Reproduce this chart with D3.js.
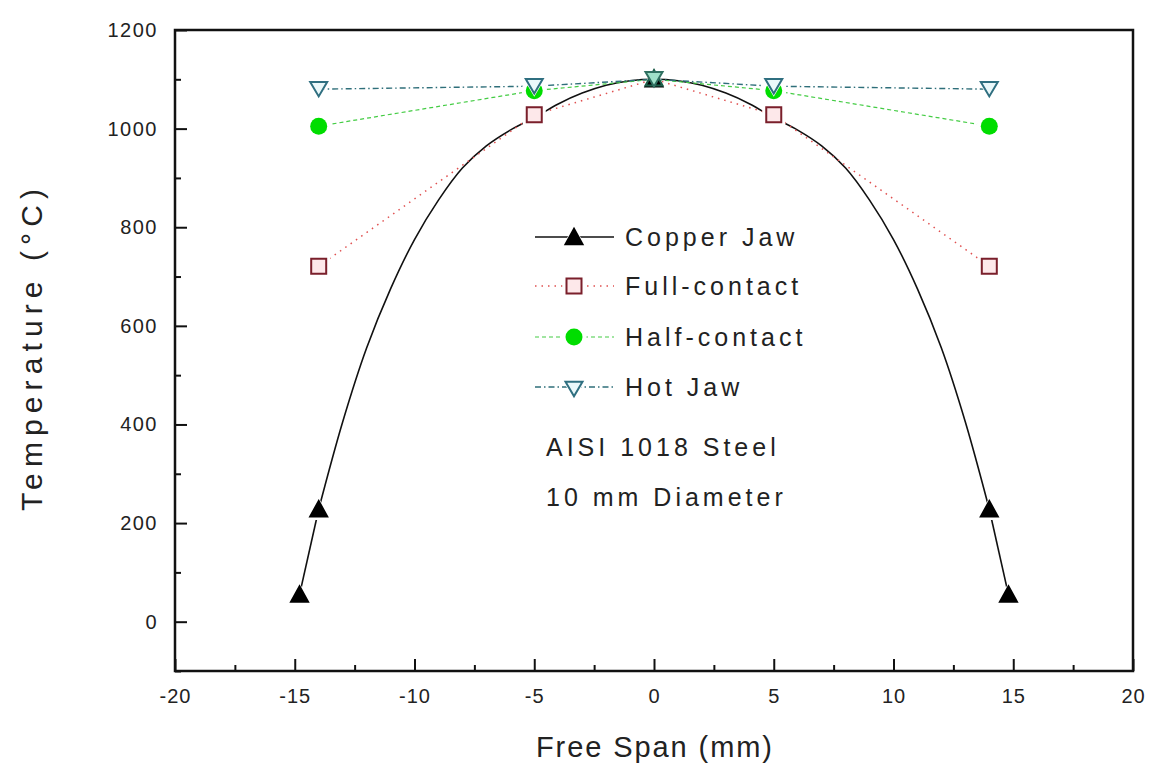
<!DOCTYPE html>
<html>
<head>
<meta charset="utf-8">
<script src="https://cdn.jsdelivr.net/npm/d3@7"></script>
<style>
  body { margin: 0; background: #fff; }
  text { font-family: "Liberation Sans", Arial, sans-serif; fill: #222; }
</style>
</head>
<body>
<div id="chart"></div>
<script>
// data
var spanX = [-14, -5, 0, 5, 14];
var copperX = [-14.8, -14, 0, 14, 14.8];
var copperT = [55, 228, 1100, 228, 55];
// trace of the copper jaw curve
var copperCurveX = [-14, -13, -12, -11, -10, -9, -8, -7, -6, -5, -4, -3, -2, -1, 0,
                    1, 2, 3, 4, 5, 6, 7, 8, 9, 10, 11, 12, 13, 14];
var copperCurveT = [228, 405, 555, 675, 775, 855, 920, 965, 997, 1022, 1050, 1072, 1088, 1097, 1100,
                    1097, 1088, 1072, 1050, 1022, 997, 965, 920, 855, 775, 675, 555, 405, 228];
var fullT = [721, 1028, 1100, 1028, 721];
var halfT = [1005, 1077, 1100, 1077, 1005];
var hotT = [1080, 1086, 1100, 1086, 1080];
var xTicks = [-20, -15, -10, -5, 0, 5, 10, 15, 20];
var yTicks = [0, 200, 400, 600, 800, 1000, 1200];
var legendNames = ["Copper Jaw", "Full-contact", "Half-contact", "Hot Jaw"];
var notes = ["AISI 1018 Steel", "10 mm Diameter"];

var W = 1150, H = 771;
var m = {left: 175, right: 1133, top: 30, bottom: 671};

var svg = d3.select("#chart").append("svg")
    .attr("width", W).attr("height", H);

var x = d3.scaleLinear().domain([-20, 20]).range([m.left, m.right]);
var y = d3.scaleLinear().domain([-100, 1200]).range([m.bottom, m.top]);

//minor ticks
var xMinor = d3.range(-17.5, 20, 5);
var yMinor = d3.range(-100, 1200, 200);

var axisColor = "#111";
var plainFmt = function(d){ return String(d); };

svg.append("g")
    .attr("transform", "translate(0," + m.bottom + ")")
    .call(d3.axisBottom(x).tickValues(xMinor).tickSize(-6).tickFormat(""))
    .call(function(g){ g.select(".domain").remove(); g.selectAll("line").attr("stroke", axisColor).attr("stroke-width", 2); });
svg.append("g")
    .attr("transform", "translate(0," + m.bottom + ")")
    .call(d3.axisBottom(x).tickValues(xTicks).tickSize(-12).tickPadding(18).tickFormat(plainFmt))
    .call(function(g){
        g.select(".domain").remove();
        g.selectAll("line").attr("stroke", axisColor).attr("stroke-width", 2);
        g.selectAll("text").attr("font-size", 20).attr("letter-spacing", 1)
            .attr("fill", "#222").style("font-family", "Liberation Sans, Arial, sans-serif");
    });

svg.append("g")
    .attr("transform", "translate(" + m.left + ",0)")
    .call(d3.axisLeft(y).tickValues(yMinor).tickSize(-6).tickFormat(""))
    .call(function(g){ g.select(".domain").remove(); g.selectAll("line").attr("stroke", axisColor).attr("stroke-width", 2); });
svg.append("g")
    .attr("transform", "translate(" + m.left + ",0)")
    .call(d3.axisLeft(y).tickValues(yTicks).tickSize(-12).tickPadding(17).tickFormat(plainFmt))
    .call(function(g){
        g.select(".domain").remove();
        g.selectAll("line").attr("stroke", axisColor).attr("stroke-width", 2);
        g.selectAll("text").attr("font-size", 20).attr("letter-spacing", 1.5)
            .attr("fill", "#222").style("font-family", "Liberation Sans, Arial, sans-serif");
    });

//frame
svg.append("rect")
    .attr("x", m.left).attr("y", m.top)
    .attr("width", m.right - m.left).attr("height", m.bottom - m.top)
    .attr("fill", "none").attr("stroke", axisColor).attr("stroke-width", 2.5);

// axis titles
svg.append("text")
    .attr("x", x(0)).attr("y", 757)
    .attr("text-anchor", "middle")
    .attr("font-size", 29)
    .attr("textLength", 236).attr("lengthAdjust", "spacing")
    .text("Free Span (mm)");
svg.append("text")
    .attr("transform", "translate(42," + 350 + ") rotate(-90)")
    .attr("text-anchor", "middle")
    .attr("font-size", 30)
    .attr("textLength", 322).attr("lengthAdjust", "spacing")
    .text("Temperature (°C)");

// series
var lineGen = d3.line().x(function(d){ return x(d[0]); }).y(function(d){ return y(d[1]); });
var curveGen = d3.line().curve(d3.curveCatmullRom.alpha(0.5))
    .x(function(d){ return x(d[0]); }).y(function(d){ return y(d[1]); });

var series = [
    {name: legendNames[1], xs: spanX, ts: fullT, color: "#e05050", dash: "1.5,5", width: 1.5, sym: "square", stroke: "#7a1f2b", fill: "#fde8ea"},
    {name: legendNames[2], xs: spanX, ts: halfT, color: "#44cc44", dash: "4,3", width: 1.2, sym: "circle", stroke: "#00dd00", fill: "#00dd00"},
    {name: legendNames[3], xs: spanX, ts: hotT, color: "#2f6f7a", dash: "6,3,1.5,3", width: 1.4, sym: "tri", stroke: "#2f6f80", fill: "#eaf8fa"}
];

var plot = svg.append("g");

// copper jaw: short straight end pieces + smooth trace
var copperPts = copperX.map(function(v, i){ return [v, copperT[i]]; });
plot.append("path")
    .datum([copperPts[0], copperPts[1]])
    .attr("d", lineGen).attr("fill", "none").attr("stroke", "#111").attr("stroke-width", 1.6);
plot.append("path")
    .datum([copperPts[3], copperPts[4]])
    .attr("d", lineGen).attr("fill", "none").attr("stroke", "#111").attr("stroke-width", 1.6);
plot.append("path")
    .datum(copperCurveX.map(function(v, i){ return [v, copperCurveT[i]]; }))
    .attr("d", curveGen).attr("fill", "none").attr("stroke", "#111").attr("stroke-width", 1.6);

series.forEach(function(s){
    plot.append("path")
        .datum(s.xs.map(function(v, i){ return [v, s.ts[i]]; }))
        .attr("d", lineGen)
        .attr("fill", "none")
        .attr("stroke", s.color)
        .attr("stroke-width", s.width)
        .attr("stroke-dasharray", s.dash);
});

function symbolPath(sym, size) {
    if (sym === "square") return d3.symbol().type(d3.symbolSquare).size(size * size)();
    if (sym === "circle") return d3.symbol().type(d3.symbolCircle).size(Math.PI * size * size / 4)();
    if (sym === "tri") {
        var h = size * 0.85, w = size * 0.5;
        return "M" + (-w) + "," + (-h / 2) + "L" + w + "," + (-h / 2) + "L0," + (h / 2) + "Z";
    }
    var th = size * 0.85, tw = size * 0.5;
    return "M0," + (-th / 2 - 1) + "L" + tw + "," + (th / 2) + "L" + (-tw) + "," + (th / 2) + "Z";
}

function drawMarker(g, sym, cx, cy, stroke, fill, gap) {
    var sz = sym === "circle" ? 17 : (sym === "square" ? 15 : 17);
    if (gap) {
        g.append("path").attr("d", symbolPath(sym, sz + 8))
            .attr("transform", "translate(" + cx + "," + cy + ")")
            .attr("fill", "#fff");
    }
    g.append("path").attr("d", symbolPath(sym, sz))
        .attr("transform", "translate(" + cx + "," + cy + ")")
        .attr("fill", fill)
        .attr("stroke", stroke)
        .attr("stroke-width", sym === "circle" ? 0 : 2);
}

// gaps first, then markers
var markerLayer = svg.append("g");
copperPts.forEach(function(p){ drawMarker(markerLayer, "up", x(p[0]), y(p[1]), "#000", "#000", true); });
series.forEach(function(s){
    s.xs.forEach(function(v, i){
        if (v === 0) return;
        drawMarker(markerLayer, s.sym, x(v), y(s.ts[i]), s.stroke, s.fill, true);
    });
});
// the centre point where all series meet
drawMarker(markerLayer, "up", x(0), y(1100) - 1, "#1d5f4a", "none", false);
drawMarker(markerLayer, "tri", x(0), y(1100), "#2f6f60", "#9fe0c8", false);

// legend
var lg = svg.append("g");
var legendY = [237, 286, 337, 387];
var allSeries = [{sym: "up", color: "#111", dash: null, width: 1.6, stroke: "#000", fill: "#000"}].concat(series);
allSeries.forEach(function(s, i){
    var ly = legendY[i];
    lg.append("line").attr("x1", 535).attr("x2", 614).attr("y1", ly).attr("y2", ly)
        .attr("stroke", s.color).attr("stroke-width", s.width)
        .attr("stroke-dasharray", s.dash);
    drawMarker(lg, s.sym, 574, ly + (s.sym === "tri" ? 2 : 0), s.stroke, s.fill, true);
    lg.append("text").attr("x", 625).attr("y", ly + 9)
        .attr("font-size", 25).attr("letter-spacing", 4)
        .text(legendNames[i]);
});

notes.forEach(function(t, i){
    svg.append("text").attr("x", 546).attr("y", 456 + i * 50)
        .attr("font-size", 25).attr("letter-spacing", 4)
        .text(t);
});
</script>
</body>
</html>
